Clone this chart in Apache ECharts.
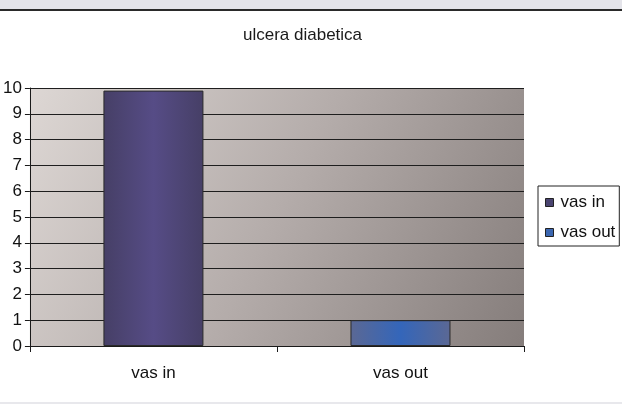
<!DOCTYPE html>
<html>
<head>
<meta charset="utf-8">
<script src="https://cdn.jsdelivr.net/npm/echarts@6/dist/echarts.min.js"></script>
<style>
  html, body { margin: 0; padding: 0; background: #fff; }
  #chart { width: 622px; height: 404px; }
</style>
</head>
<body>
<div id="chart"></div>
<script>
// Chart data
const titleText = 'ulcera diabetica';
const categories = ['vas in', 'vas out'];
const seriesNames = ['vas in', 'vas out'];
const vasInValues = [9.9, '-'];
const vasOutValues = ['-', 1];
const yTicks = [0, 1, 2, 3, 4, 5, 6, 7, 8, 9, 10];

const font = 'Liberation Sans, Arial, sans-serif';

function barGradient(edge, mid) {
  return {
    type: 'linear', x: 0, y: 0, x2: 1, y2: 0,
    colorStops: [
      { offset: 0, color: edge },
      { offset: 0.5, color: mid },
      { offset: 1, color: edge }
    ]
  };
}

const chart = echarts.init(document.getElementById('chart'), null, { renderer: 'canvas' });

chart.setOption({
  animation: false,
  backgroundColor: '#ffffff',
  title: {
    text: titleText,
    left: 238,
    top: 22,
    textStyle: { fontFamily: font, fontSize: 17, fontWeight: 'normal', color: '#1a1a1a' }
  },
  graphic: [
    { type: 'rect', shape: { x: 0, y: 0, width: 622, height: 9 }, style: { fill: '#e4e4ea' }, silent: true },
    { type: 'rect', shape: { x: 0, y: 9, width: 622, height: 2 }, style: { fill: '#2a2a2a' }, silent: true },
    { type: 'rect', shape: { x: 0, y: 402, width: 622, height: 2 }, style: { fill: '#e8e8ec' }, silent: true }
  ],
  legend: {
    orient: 'vertical',
    left: 538,
    top: 186,
    padding: [8, 4, 5, 7],
    itemGap: 13,
    itemWidth: 8,
    itemHeight: 8,
    icon: 'rect',
    borderColor: '#222',
    borderWidth: 1,
    backgroundColor: '#ffffff',
    textStyle: { fontFamily: font, fontSize: 17, color: '#111', padding: [0, 0, 0, 2] },
    data: [
      { name: seriesNames[0], itemStyle: { color: '#4a4470', borderColor: '#222', borderWidth: 1 } },
      { name: seriesNames[1], itemStyle: { color: '#3b66b0', borderColor: '#222', borderWidth: 1 } }
    ]
  },
  grid: {
    left: 29, top: 88, width: 495, height: 258,
    show: true,
    borderWidth: 0,
    backgroundColor: {
      type: 'linear', x: 0, y: 0, x2: 1, y2: 1,
      colorStops: [
        { offset: 0, color: '#ddd7d4' },
        { offset: 0.5, color: '#b4acaa' },
        { offset: 1, color: '#857d7b' }
      ]
    }
  },
  xAxis: {
    type: 'category',
    data: categories,
    boundaryGap: true,
    axisLine: { lineStyle: { color: '#1a1a1a', width: 1 } },
    axisTick: { show: true, alignWithLabel: false, length: 6, lineStyle: { color: '#1a1a1a' } },
    axisLabel: { fontFamily: font, fontSize: 17, color: '#111', margin: 19 }
  },
  yAxis: {
    type: 'value',
    min: yTicks[0],
    max: yTicks[yTicks.length - 1],
    interval: 1,
    axisLine: { show: true, lineStyle: { color: '#1a1a1a', width: 1 } },
    axisTick: { show: true, length: 5, lineStyle: { color: '#1a1a1a' } },
    axisLabel: { fontFamily: font, fontSize: 17, color: '#111', margin: 8 },
    splitLine: { show: true, lineStyle: { color: '#1e1e1e', width: 1 } }
  },
  series: [
    {
      name: seriesNames[0],
      type: 'bar',
      stack: 'one',
      barWidth: 100,
      data: vasInValues,
      itemStyle: { color: barGradient('#463f66', '#564c86'), borderColor: '#2a2a2a', borderWidth: 1 }
    },
    {
      name: seriesNames[1],
      type: 'bar',
      stack: 'one',
      barWidth: 100,
      data: vasOutValues,
      itemStyle: { color: barGradient('#5b6894', '#3466ba'), borderColor: '#2a2a2a', borderWidth: 1 }
    }
  ]
});
</script>
</body>
</html>
